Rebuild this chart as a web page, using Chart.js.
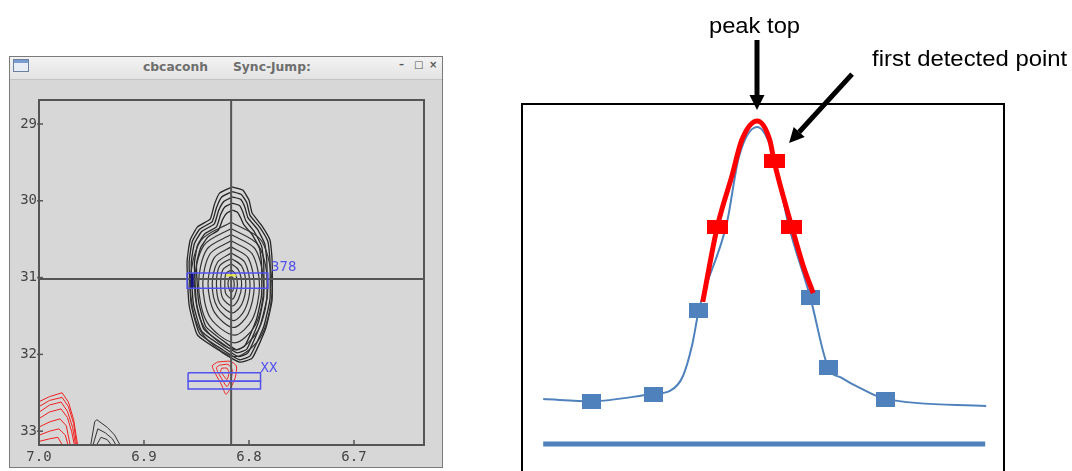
<!DOCTYPE html>
<html><head><meta charset="utf-8">
<script src="https://cdn.jsdelivr.net/npm/chart.js@4.4.1/dist/chart.umd.min.js"></script>
<style>
html,body{margin:0;padding:0;background:#fff;overflow:hidden;width:1072px;height:471px;}
#win{position:absolute;left:9px;top:56px;width:432px;height:410px;border:1px solid #7a7a7a;background:#d7d7d7;}
#title{position:absolute;left:0;top:0;width:432px;height:22px;background:linear-gradient(#f3f3f3,#e3e3e3);border-bottom:1px solid #c4c4c4;font:bold 12.3px "DejaVu Sans",sans-serif;color:#6e6e6e;}
#title span{position:absolute;top:2px;line-height:16px;white-space:nowrap;}
#icon{position:absolute;left:3px;top:2px;width:14px;height:11px;border:1px solid #6c7fa0;background:linear-gradient(#7b9cd0 0,#7b9cd0 3px,#e8ecf4 3px);}
#btns span{color:#555;font:bold 10px "DejaVu Sans",sans-serif;}
#left{position:absolute;left:0;top:22px;}
#right{position:absolute;left:500px;top:0;}
</style></head><body>
<div id="win">
  <div id="title">
    <div id="icon"></div>
    <span style="left:133px">cbcaconh</span>
    <span style="left:223px">Sync-Jump:</span>
    <span id="btns"><span style="position:absolute;left:389px;top:0">–</span><span style="position:absolute;left:404px;top:0">□</span><span style="position:absolute;left:419px;top:0">×</span></span>
  </div>
  <canvas id="left" width="432" height="388"></canvas>
</div>
<canvas id="right" width="572" height="520"></canvas>
<script>
// ================= LEFT PANEL: 2D spectrum (ppm) =================
const xTickVals = [7.0, 6.9, 6.8, 6.7];
const yTickVals = [29, 30, 31, 32, 33];
const crossX = 6.817;
const crossY = 31.02;

// main peak contours (outer rings with top lobe)
const lobeRings = [
 [[6.816,29.82],[6.806,29.86],[6.800,29.99],[6.797,30.16],[6.788,30.32],[6.780,30.51],[6.778,30.77],[6.778,31.29],[6.784,31.66],[6.797,32.05],[6.809,32.10],[6.826,31.97],[6.849,31.75],[6.857,31.36],[6.859,30.80],[6.856,30.51],[6.849,30.34],[6.837,30.24],[6.833,30.05],[6.828,29.90],[6.816,29.82]],
 [[6.816,29.88],[6.807,29.92],[6.802,30.03],[6.799,30.19],[6.790,30.34],[6.782,30.53],[6.780,30.78],[6.780,31.28],[6.786,31.64],[6.799,32.02],[6.809,32.07],[6.825,31.94],[6.847,31.73],[6.855,31.35],[6.857,30.80],[6.854,30.53],[6.847,30.37],[6.835,30.27],[6.831,30.09],[6.826,29.95],[6.816,29.88]],
 [[6.816,29.95],[6.808,29.98],[6.804,30.08],[6.801,30.22],[6.792,30.37],[6.785,30.56],[6.783,30.79],[6.783,31.27],[6.789,31.61],[6.801,31.98],[6.810,32.03],[6.824,31.91],[6.845,31.70],[6.853,31.34],[6.855,30.81],[6.852,30.56],[6.845,30.40],[6.833,30.30],[6.829,30.13],[6.824,30.01],[6.816,29.95]],
 [[6.816,30.03],[6.809,30.06],[6.806,30.14],[6.803,30.26],[6.795,30.40],[6.788,30.59],[6.786,30.80],[6.786,31.25],[6.791,31.58],[6.802,31.93],[6.811,31.98],[6.823,31.88],[6.843,31.67],[6.850,31.33],[6.852,30.82],[6.849,30.58],[6.842,30.43],[6.831,30.34],[6.827,30.18],[6.823,30.08],[6.816,30.03]],
 [[6.816,30.12],[6.811,30.15],[6.808,30.22],[6.805,30.31],[6.797,30.44],[6.790,30.62],[6.788,30.82],[6.788,31.23],[6.793,31.55],[6.804,31.89],[6.812,31.94],[6.822,31.85],[6.841,31.64],[6.848,31.31],[6.850,30.83],[6.846,30.61],[6.839,30.47],[6.829,30.38],[6.825,30.24],[6.821,30.16],[6.816,30.12]]
];
// inner rings
const innerRings = [
 [[6.817,30.28],[6.788,30.52],[6.778,31.13],[6.788,31.75],[6.813,32.03],[6.846,31.70],[6.856,31.08],[6.846,30.52],[6.817,30.28]],
 [[6.817,30.36],[6.791,30.58],[6.782,31.12],[6.791,31.68],[6.813,31.94],[6.843,31.64],[6.852,31.08],[6.843,30.58],[6.817,30.36]],
 [[6.817,30.44],[6.794,30.63],[6.786,31.12],[6.794,31.62],[6.814,31.85],[6.840,31.58],[6.848,31.08],[6.840,30.63],[6.817,30.44]],
 [[6.817,30.52],[6.797,30.69],[6.790,31.11],[6.797,31.55],[6.814,31.75],[6.837,31.52],[6.844,31.08],[6.837,30.69],[6.817,30.52]],
 [[6.817,30.60],[6.801,30.74],[6.795,31.11],[6.801,31.48],[6.815,31.65],[6.833,31.45],[6.839,31.08],[6.833,30.74],[6.817,30.60]],
 [[6.817,30.68],[6.804,30.80],[6.799,31.10],[6.804,31.42],[6.815,31.56],[6.830,31.39],[6.835,31.08],[6.830,30.80],[6.817,30.68]],
 [[6.817,30.75],[6.807,30.85],[6.803,31.10],[6.807,31.35],[6.816,31.46],[6.828,31.33],[6.831,31.08],[6.828,30.85],[6.817,30.75]],
 [[6.817,30.82],[6.810,30.90],[6.807,31.09],[6.810,31.28],[6.816,31.37],[6.825,31.27],[6.827,31.08],[6.825,30.90],[6.817,30.82]],
 [[6.817,30.90],[6.813,30.95],[6.811,31.09],[6.813,31.22],[6.816,31.28],[6.822,31.21],[6.823,31.08],[6.822,30.95],[6.817,30.90]],
 [[6.817,30.98],[6.815,31.01],[6.814,31.09],[6.815,31.16],[6.817,31.19],[6.819,31.15],[6.820,31.08],[6.819,31.01],[6.817,30.98]]
];
// small red peak below main peak
const redPeakRings = [
 [[6.830,32.10],[6.818,32.09],[6.812,32.15],[6.813,32.30],[6.818,32.45],[6.822,32.52],[6.826,32.40],[6.832,32.25],[6.835,32.15],[6.830,32.10]],
 [[6.828,32.14],[6.820,32.13],[6.816,32.20],[6.817,32.32],[6.821,32.42],[6.825,32.34],[6.830,32.22],[6.831,32.17],[6.828,32.14]],
 [[6.826,32.18],[6.821,32.18],[6.819,32.24],[6.821,32.33],[6.824,32.28],[6.827,32.22],[6.826,32.18]]
];
// peaks cut by the lower-left corner
const cornerRedArcs = [
 [[7.005,32.65],[6.990,32.55],[6.978,32.50],[6.972,32.62],[6.967,32.85],[6.963,33.20]],
 [[7.005,32.72],[6.990,32.60],[6.978,32.56],[6.972,32.68],[6.967,32.90],[6.964,33.20]],
 [[7.005,32.80],[6.990,32.66],[6.979,32.62],[6.973,32.74],[6.968,32.95],[6.965,33.20]],
 [[7.005,32.88],[6.990,32.75],[6.979,32.71],[6.973,32.82],[6.969,33.00],[6.966,33.20]],
 [[7.005,32.98],[6.990,32.88],[6.980,32.84],[6.974,32.93],[6.970,33.20]],
 [[7.005,33.08],[6.990,33.00],[6.981,32.97],[6.975,33.05],[6.972,33.20]],
 [[7.005,33.15],[6.990,33.10],[6.982,33.08],[6.977,33.20]]
];
const cornerBlackArcs = [
 [[6.951,33.20],[6.947,32.88],[6.945,32.85],[6.935,32.95],[6.928,33.05],[6.922,33.20]],
 [[6.949,33.20],[6.944,32.97],[6.937,33.02],[6.930,33.10],[6.926,33.20]],
 [[6.946,33.20],[6.941,33.08],[6.935,33.11],[6.930,33.20]]
];
// peak-label boxes
const peakBox = [[6.859,30.94],[6.782,30.94],[6.782,31.14],[6.859,31.14],[6.859,30.94]];
const peakBoxMark = [[6.854,30.95],[6.854,31.13]];
const peakCentreMark = [[6.822,30.97],[6.812,30.97]];
const xxBoxTop = [[6.858,32.24],[6.789,32.24],[6.789,32.35],[6.858,32.35],[6.858,32.24]];
const xxBoxBottom = [[6.858,32.35],[6.789,32.35],[6.789,32.45],[6.858,32.45],[6.858,32.35]];
const peakLabelText = ['378', 'XX'];
const peakLabelAt = [[6.779, 30.87], [6.789, 32.18]];

// ================= RIGHT PANEL: 1D slice =================
const blueX = [4.4, 14.5, 27.2, 30.7, 33.4, 35.3, 36.7, 42.5, 45.0, 48.8, 52.3, 55.2, 59.8, 63.5, 66.4, 70.5, 75.5, 96.3];
const blueY = [13.2, 12.6, 14.7, 15.6, 20.0, 29.1, 39.4, 65.0, 84.4, 93.2, 84.4, 65.0, 43.2, 22.6, 19.4, 16.2, 13.2, 11.2];
const blueMarker = [0, 1, 1, 0, 0, 0, 1, 0, 0, 0, 0, 0, 1, 1, 0, 0, 1, 0];
const redX = [37.5, 40.5, 43.6, 45.6, 48.8, 51.4, 52.3, 56.0, 58.3, 60.4];
const redY = [41.8, 63.8, 79.1, 89.4, 95.0, 89.4, 83.2, 63.8, 52.6, 44.4];
const redMarker = [0, 1, 0, 0, 0, 0, 1, 1, 0, 0];
const baseX = [4.4, 96.1];
const baseY = [0, 0];
const firstDetectedIndex = 6;
const annotationText = ['peak top', 'first detected point'];

// ---------- helpers ----------
const toPts = a => a.map(p => ({x: p[0], y: p[1]}));
const zip = (xs, ys) => xs.map((v, i) => ({x: v, y: ys[i]}));
function lineDs(arr, color, width, tension) {
  return {data: toPts(arr), borderColor: color, borderWidth: width, pointRadius: 0,
          tension: tension || 0, showLine: true, fill: false};
}
function rectImg(w, h, color) {
  const c = document.createElement('canvas'); c.width = w; c.height = h;
  const g = c.getContext('2d'); g.fillStyle = color; g.fillRect(0, 0, w, h); return c;
}

// ---------- left chart ----------
const BLUE_LBL = '#5252ee';
const leftDatasets = [];
leftDatasets.push(lineDs(peakBoxMark, '#101080', 3));
leftDatasets.push(lineDs(peakCentreMark, '#e6e640', 2));
leftDatasets.push(lineDs(peakBox, BLUE_LBL, 1.5));
leftDatasets.push(lineDs(xxBoxTop, BLUE_LBL, 1.5));
leftDatasets.push(lineDs(xxBoxBottom, BLUE_LBL, 1.5));
leftDatasets.push(lineDs([[crossX, 28], [crossX, 34]], '#555', 2));
leftDatasets.push(lineDs([[6.6, crossY], [7.1, crossY]], '#555', 2));
redPeakRings.forEach(r => leftDatasets.push(lineDs(r, '#ee2020', 1, 0.2)));
cornerRedArcs.forEach(r => leftDatasets.push(lineDs(r, '#f02020', 1, 0)));
cornerBlackArcs.forEach(r => leftDatasets.push(lineDs(r, '#333', 1, 0)));
innerRings.forEach(r => leftDatasets.push(lineDs(r, '#333', 1.2, 0.3)));
lobeRings.forEach(r => leftDatasets.push(lineDs(r, '#262626', 1.3, 0.15)));

const leftDeco = {
  id: 'leftDeco',
  afterDatasetsDraw(chart) {
    const {ctx, chartArea: a, scales: {x, y}} = chart;
    ctx.save();
    ctx.strokeStyle = '#555'; ctx.lineWidth = 2;
    ctx.strokeRect(a.left, a.top, a.right - a.left, a.bottom - a.top);
    ctx.lineWidth = 1.5;
    yTickVals.forEach(v => { const py = y.getPixelForValue(v);
      ctx.beginPath(); ctx.moveTo(a.left - 2, py); ctx.lineTo(a.left + 4, py); ctx.stroke(); });
    xTickVals.forEach(v => { const px = x.getPixelForValue(v);
      ctx.beginPath(); ctx.moveTo(px, a.bottom); ctx.lineTo(px, a.bottom - 5); ctx.stroke(); });
    ctx.fillStyle = BLUE_LBL; ctx.font = '14px "DejaVu Sans Mono"';
    ctx.textAlign = 'left'; ctx.textBaseline = 'middle';
    peakLabelText.forEach((t, i) => ctx.fillText(t, x.getPixelForValue(peakLabelAt[i][0]), y.getPixelForValue(peakLabelAt[i][1])));
    ctx.restore();
  }
};

new Chart(document.getElementById('left'), {
  type: 'scatter',
  data: {datasets: leftDatasets},
  options: {
    responsive: false, animation: false, events: [],
    layout: {padding: {left: 0, right: 18, top: 21, bottom: 0}},
    plugins: {legend: {display: false}, tooltip: {enabled: false}},
    scales: {
      x: {type: 'linear', reverse: true, min: 6.6333, max: 7.0,
          afterBuildTicks: s => { s.ticks = xTickVals.map(v => ({value: v})); },
          afterFit: s => { s.height = 22; },
          grid: {display: false, drawTicks: false}, border: {display: false},
          ticks: {callback: v => Number(v).toFixed(1), color: '#444', padding: 4,
                  font: {family: 'DejaVu Sans Mono', size: 14}, maxRotation: 0, autoSkip: false}},
      y: {type: 'linear', reverse: true, min: 28.6875, max: 33.18,
          afterBuildTicks: s => { s.ticks = yTickVals.map(v => ({value: v})); },
          afterFit: s => { s.width = 29; },
          grid: {display: false, drawTicks: false}, border: {display: false},
          ticks: {callback: v => String(v), color: '#444', padding: 2,
                  font: {family: 'DejaVu Sans Mono', size: 14}, autoSkip: false}}
    }
  },
  plugins: [leftDeco]
});

// ---------- right chart ----------
const BLUE = '#4f81bd', RED = '#ff0000';
const blueRect = rectImg(19, 15, BLUE);
const redRect = rectImg(21, 14, RED);

function arrow(ctx, x0, y0, x1, y1) {
  const ang = Math.atan2(y1 - y0, x1 - x0), hl = 15, hw = 7.5;
  const bx = x1 - hl * Math.cos(ang), by = y1 - hl * Math.sin(ang);
  ctx.strokeStyle = '#000'; ctx.fillStyle = '#000'; ctx.lineWidth = 5; ctx.lineCap = 'butt';
  ctx.beginPath(); ctx.moveTo(x0, y0); ctx.lineTo(bx, by); ctx.stroke();
  ctx.beginPath(); ctx.moveTo(x1, y1);
  ctx.lineTo(bx + hw * Math.sin(ang), by - hw * Math.cos(ang));
  ctx.lineTo(bx - hw * Math.sin(ang), by + hw * Math.cos(ang));
  ctx.closePath(); ctx.fill();
}
function stretchedText(ctx, t, x, y, sx, align) {
  ctx.save(); ctx.translate(x, y); ctx.scale(sx, 1);
  ctx.textAlign = align; ctx.textBaseline = 'alphabetic'; ctx.fillText(t, 0, 0); ctx.restore();
}

const rightDeco = {
  id: 'rightDeco',
  afterDraw(chart) {
    const {ctx, chartArea: a, scales: {x, y}} = chart;
    ctx.save();
    ctx.strokeStyle = '#000'; ctx.lineWidth = 2;
    ctx.strokeRect(a.left, a.top, a.right - a.left, a.bottom - a.top + 20);
    ctx.fillStyle = '#000'; ctx.font = '22px "Liberation Sans", Arial, sans-serif';
    // peak top
    const iPk = redY.indexOf(Math.max(...redY));
    const pkX = Math.round(x.getPixelForValue(redX[iPk]));
    arrow(ctx, pkX, 40, pkX, a.top + 6);
    stretchedText(ctx, annotationText[0], pkX - 2.5, 33, 1.08, 'center');
    // first detected point
    const fx = x.getPixelForValue(redX[firstDetectedIndex]) + 15;
    const fy = y.getPixelForValue(redY[firstDetectedIndex]) - 18;
    arrow(ctx, fx + 63, fy - 69, fx, fy);
    stretchedText(ctx, annotationText[1], fx + 83, 66, 1.085, 'left');
    ctx.restore();
  }
};

new Chart(document.getElementById('right'), {
  type: 'scatter',
  data: {datasets: [
    {data: zip(redX, redY), showLine: true, borderColor: RED, borderWidth: 5,
     cubicInterpolationMode: 'monotone', pointStyle: redRect,
     pointRadius: redMarker.map(m => m ? 10 : 0), fill: false},
    {data: zip(blueX, blueY), showLine: true, borderColor: BLUE, borderWidth: 2,
     cubicInterpolationMode: 'monotone', pointStyle: blueRect,
     pointRadius: blueMarker.map(m => m ? 9 : 0), fill: false},
    {data: zip(baseX, baseY), showLine: true, borderColor: BLUE, borderWidth: 5,
     pointRadius: 0, fill: false}
  ]},
  options: {
    responsive: false, animation: false, events: [],
    layout: {padding: {left: 22, right: 68, top: 104, bottom: 8}},
    plugins: {legend: {display: false}, tooltip: {enabled: false}},
    scales: {
      x: {type: 'linear', min: 0, max: 100, display: false},
      y: {type: 'linear', min: -20, max: 100, display: false}
    }
  },
  plugins: [rightDeco]
});
</script>
</body></html>
